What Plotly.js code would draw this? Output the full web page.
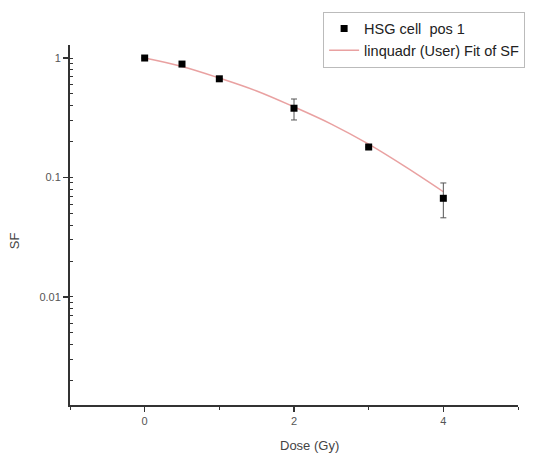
<!DOCTYPE html>
<html>
<head>
<meta charset="utf-8">
<script src="https://cdn.plot.ly/plotly-3.0.1.min.js"></script>
<style>html,body{margin:0;padding:0;background:#fff;}#chart{width:540px;height:457px;}</style>
</head>
<body>
<div id="chart"></div>
<script>
// Measured points
const dose = [0, 0.5, 1, 2, 3, 4];
const sf = [1.0, 0.89, 0.67, 0.38, 0.18, 0.067];
const errPlus = [0, 0, 0, 0.074, 0, 0.023];
const errMinus = [0, 0, 0, 0.077, 0, 0.021];
// Fit curve
const fitDose = [0, 0.5, 1, 1.5, 2, 2.5, 3, 3.5, 4];
const fitSF = [1.0, 0.85, 0.68, 0.53, 0.39, 0.28, 0.19, 0.122, 0.076];
const seriesNames = ["HSG cell  pos 1", "linquadr (User) Fit of SF"];
const xTitle = "Dose (Gy)";
const yTitle = "SF";

const font = "Liberation Sans, Arial, sans-serif";
const data = [
  {
    x: fitDose, y: fitSF, type: "scatter", mode: "lines", name: seriesNames[1],
    line: {color: "rgba(225,130,130,0.75)", width: 1.5, shape: "spline"}
  },
  {
    x: dose, y: sf, type: "scatter", mode: "markers", name: seriesNames[0],
    marker: {symbol: "square", size: 7, color: "#000"},
    error_y: {type: "data", symmetric: false, array: errPlus, arrayminus: errMinus,
      color: "#555", thickness: 1, width: 3}
  }
];
const layout = {
  width: 540, height: 457,
  margin: {l: 70, r: 22, t: 45, b: 52},
  paper_bgcolor: "#fff", plot_bgcolor: "#fff",
  showlegend: true,
  legend: {
    x: 0.565, y: 1.093, xanchor: "left", yanchor: "top",
    traceorder: "reversed",
    font: {family: font, size: 14.5, color: "#222"},
    bordercolor: "#bbb", borderwidth: 1, bgcolor: "#fff",
    tracegroupgap: 0
  },
  xaxis: {
    range: [-1, 5], showgrid: false, zeroline: false,
    showline: true, linecolor: "#333", linewidth: 2,
    ticks: "outside", ticklen: 5, tickwidth: 1.5, tickcolor: "#333",
    dtick: 2, tick0: 0,
    minor: {ticks: "outside", ticklen: 3, tickwidth: 1, tickcolor: "#333", dtick: 1, tick0: 0},
    tickfont: {family: font, size: 11, color: "#555"}
  },
  yaxis: {
    type: "log", range: [-2.904, 0.109], showgrid: false, zeroline: false,
    showline: true, linecolor: "#333", linewidth: 2,
    ticks: "outside", ticklen: 5, tickwidth: 1.5, tickcolor: "#333",
    dtick: 1,
    minor: {ticks: "inside", ticklen: 3, tickwidth: 1, tickcolor: "#333", dtick: "D1"},
    tickfont: {family: font, size: 11, color: "#555"}
  },
  annotations: [
    {text: xTitle, xref: "paper", yref: "paper", x: 0.535, y: -0.112, xanchor: "center", yanchor: "middle",
     showarrow: false, font: {family: font, size: 13, color: "#444"}},
    {text: yTitle, xref: "paper", yref: "paper", x: -0.125, y: 0.455, xanchor: "center", yanchor: "middle",
     textangle: -90, showarrow: false, font: {family: font, size: 13, color: "#444"}}
  ]
};
Plotly.newPlot("chart", data, layout, {staticPlot: true, displayModeBar: false});
</script>
</body>
</html>
